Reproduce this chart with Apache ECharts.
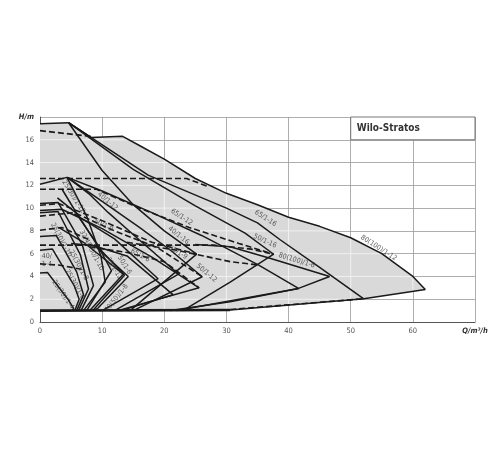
<!DOCTYPE html>
<html><head><meta charset="utf-8">
<script src="https://cdn.jsdelivr.net/npm/echarts@6/dist/echarts.min.js"></script>
<style>html,body{margin:0;padding:0;background:#fff}#c{width:500px;height:450px}</style>
</head><body><div id="c"></div>
<script>
// ---- tick labels ----
const xTickLabels = ['0','10','20','30','40','50','60','Q/m³/h'];
const yTickLabels = ['0','2','4','6','8','10','12','14','16','H/m'];
const title = 'Wilo-Stratos';

// ---- gray operating envelope (Q m3/h, H m) ----
const envelope = [[0,1.0],[0,17.4],[4.6,17.5],[8.2,16.2],[13.3,16.3],[16,15.5],[20,14.3],[25,12.6],[30,11.3],[35,10.3],[40,9.2],[45,8.4],[50,7.4],[55,6.0],[60,4.0],[62,2.86],[52.1,2.04],[30.6,1.05],[20,1.0]];

// ---- solid max curves ----
const top16 = [[0,17.4],[4.6,17.5]];
const c80_12 = [[4.6,17.5],[8.2,16.2],[13.3,16.3],[16,15.5],[20,14.3],[25,12.6],[30,11.3],[35,10.3],[40,9.2],[45,8.4],[50,7.4],[55,6.0],[60,4.0],[62,2.86],[52.1,2.04],[30.6,1.05]];
const c65_16 = [[4.6,17.5],[17.4,12.9],[30,10.0],[35,8.7],[38.7,7.2],[45,4.8],[52.1,2.04]];
const c50_16 = [[4.6,17.5],[15,13.4],[25,10.2],[33,7.8],[37.6,5.95],[30.6,3.5],[23,1.0]];
const c40_16 = [[4.6,17.5],[10,13.3],[15,10.3],[20,8.0],[25.2,5.96],[14.5,1.0]];
const c80_6 = [[25,6.8],[30.6,6.6],[37,5.6],[46.6,4.0],[41.6,2.95],[30.6,1.78],[21,1.0]];
const c65_12 = [[4.4,12.7],[10,11.5],[18,9.6],[26,7.6],[35.2,5.0],[41.6,2.95],[22,1.0]];
const c50_12 = [[4.4,12.7],[10,10.6],[16,8.3],[21,6.3],[26.1,3.97],[15,1.0]];
const c40_12 = [[4.4,12.7],[8,11.2],[11,9.6],[16,7.2],[22.3,4.2],[12,1.0]];
const c65_9 = [[0,9.8],[3.5,9.9],[10,8.2],[18,5.7],[25.6,3.0],[12.5,1.0]];
const c50_9 = [[5.5,9.5],[12,7.3],[19,3.8],[10,1.0]];
const c65_6 = [[8,6.8],[14,5.8],[21.4,2.4],[13,1.0]];
const c50_6 = [[5,6.9],[8.8,6.7],[14.2,4.0],[9.3,1.2],[8.5,1.0]];
const c32_12 = [[3.5,11.7],[6.5,9.0],[10,6.2],[13.6,4.1],[8.5,1.0]];
const c40_8 = [[3,8.3],[7,7.0],[13.4,4.2],[8,1.0]];
const c32_10 = [[2.8,10.9],[6,9.5],[9.5,6.5],[11.5,4.5],[7.5,1.0]];
const c25_12 = [[0,12.1],[4.35,12.7],[7.5,9.3],[9.8,5.8],[10.5,3.5],[7,1.0]];
const c25_10 = [[0,10.4],[2.9,10.5],[6.8,6.8],[8.6,3.2],[6.6,1.0]];
const c25_8 = [[0,9.6],[2.9,9.7],[6.5,5.9],[7.8,2.9],[6.2,1.0]];
const c25_6 = [[0,7.5],[2.6,7.6],[5.9,4.4],[7.0,2.4],[5.9,1.0]];
const c40_4 = [[0,6.3],[2.0,6.4],[5.5,3.2],[6.3,2.0],[5.6,1.0]];
const c25_4 = [[0,4.3],[1.2,4.35],[4.5,2.0],[5.4,1.2],[5.2,1.0]];
const minCurve = [[0,1.0],[30.6,1.05]];

// ---- dashed control curves ----
const d1 = [[0,16.8],[8.2,16.3]];
const d2 = [[0,12.6],[23.6,12.6],[27,11.9]];
const d3 = [[0,11.65],[9.1,11.65],[16,10.0],[24,8.3],[32,6.9],[37.6,5.95]];
const d4 = [[0,10.25],[3,10.4],[10,8.9],[18,7.0],[25.2,5.96]];
const d5 = [[0,9.3],[5.5,9.6],[12,8.0],[19,6.5],[26.1,3.97]];
const d6 = [[0,8.05],[3.5,8.3],[8,7.2]];
const d7 = [[0,6.75],[28,6.75],[34,6.4],[37.6,5.95]];
const d8 = [[0,5.1],[3,5.0],[7,4.6]];
const d9 = [[30.6,1.1],[52.1,2.04]];
const d10 = [[8,6.6],[14,6.1],[20,5.3],[25.6,3.0]];
const d11 = [[14,7.0],[22,6.3],[30.6,5.3],[35.2,5.0]];

// ---- curve labels: text, Q, H, angle ----
const curveLabels = [
 ['80(100)/1-12',54.5,6.5,-33],
 ['65/1-16',36.3,9.1,-33],
 ['50/1-16',36.2,7.1,-25],
 ['80(100)/1-6',41.3,5.4,-17],
 ['65/1-12',22.8,9.2,-33],
 ['40/1-16',22.3,7.6,-38],
 ['65/1-9',22.2,6.1,-30],
 ['50/1-12',26.8,4.3,-40],
 ['40/1-12',10.9,10.6,-40],
 ['50/1-9',10.2,8.5,-28],
 ['65/1-6',16.1,5.85,-28],
 ['50/1-6',13.6,5.0,-58],
 ['32/1-12',11.9,4.7,-58],
 ['32/40 50/1-10',8.3,6.3,-62],
 ['40(50)/1-8',12.3,2.1,52],
 ['25(30)/1-12',5.4,11.0,-58],
 ['25(30)/1-10',3.4,7.2,-62],
 ['25(30)/1-8',6.2,5.0,-62],
 ['25(30)/1-6',5.6,3.3,-60],
 ['25(30)/1-4',3.7,2.4,-55],
 ['40/\n1-4',1.1,5.4,0]
];

const solids = [top16,c80_12,c65_16,c50_16,c40_16,c80_6,c65_12,c50_12,c40_12,c65_9,c50_9,c65_6,c50_6,c32_12,c40_8,c32_10,c25_12,c25_10,c25_8,c25_6,c40_4,c25_4];
const dashes = [d1,d2,d3,d4,d5,d6,d7,d8,d9,d10,d11];

// grid lines seen through the gray area: segments of grid lines inside the envelope
function insideSegments(axis, v) {
  const xs = [];
  for (let i = 0; i < envelope.length; i++) {
    const a = envelope[i], b = envelope[(i+1) % envelope.length];
    const k = axis === 'q' ? 0 : 1, o = 1 - k;
    if ((a[k] - v) * (b[k] - v) < 0 || (a[k] === v && b[k] !== v)) {
      const t = (v - a[k]) / (b[k] - a[k]);
      if (t >= 0 && t < 1) xs.push(a[o] + t * (b[o] - a[o]));
    }
  }
  xs.sort((m, n) => m - n);
  const segs = [];
  for (let i = 0; i + 1 < xs.length; i += 2) {
    segs.push(axis === 'q' ? [[v, xs[i]], [v, xs[i+1]]] : [[xs[i], v], [xs[i+1], v]]);
  }
  return segs;
}

const series = [];
series.push({
  type:'custom', z:1, silent:true, data:[0],
  renderItem:(params, api)=>{
    const children = [{type:'polygon', shape:{points:envelope.map(p=>api.coord(p))}, style:{fill:'#d9d9d9', stroke:'none'}}];
    const segs = [];
    for (let q = 10; q <= 60; q += 10) segs.push(...insideSegments('q', q));
    for (let h = 2; h <= 16; h += 2) segs.push(...insideSegments('h', h));
    segs.forEach(s=>{
      const a = api.coord(s[0]), b = api.coord(s[1]);
      children.push({type:'line', shape:{x1:a[0], y1:a[1], x2:b[0], y2:b[1]}, style:{stroke:'#f3f3f3', lineWidth:0.9}});
    });
    return {type:'group', children};
  }
});
series.push({
  type:'custom', z:1, silent:true, data:[0],
  renderItem:(params, api)=>{
    const a = api.coord([50,18]), b = api.coord([70,16]);
    return {type:'group', children:[
      {type:'rect', shape:{x:a[0], y:a[1], width:b[0]-a[0], height:b[1]-a[1]}, style:{fill:'#fff', stroke:'#666', lineWidth:0.9}},
      {type:'text', style:{x:a[0]+6, y:(a[1]+b[1])/2, text:title, font:'bold 10px "DejaVu Sans Condensed", "DejaVu Sans", sans-serif', fill:'#333', verticalAlign:'middle'}}
    ]};
  }
});
solids.forEach(d=>series.push({type:'line', data:d, showSymbol:false, silent:true, z:4, lineStyle:{color:'#1a1a1a', width:1.5}}));
dashes.forEach(d=>series.push({type:'line', data:d, showSymbol:false, silent:true, z:3, lineStyle:{color:'#1a1a1a', width:1.6, type:[6,3]}}));
series.push({type:'line', data:minCurve, showSymbol:false, silent:true, z:5, lineStyle:{color:'#1a1a1a', width:2.6}});
series.push({
  type:'scatter', symbolSize:0, silent:true, z:6,
  data: curveLabels.map(l=>({value:[l[1],l[2]], label:{rotate:l[3]}, name:l[0]})),
  label:{show:true, position:'inside', formatter:p=>p.name, fontSize:7, color:'#333', fontFamily:'"DejaVu Sans Condensed", "DejaVu Sans", sans-serif', lineHeight:8}
});

const chart = echarts.init(document.getElementById('c'), null, {renderer:'canvas'});
chart.setOption({
  animation:false,
  grid:{left:40, right:25, top:117, bottom:128},
  xAxis:{type:'value', min:0, max:70, interval:10,
    axisLine:{show:true, lineStyle:{color:'#555', width:1}}, axisTick:{show:false},
    splitLine:{show:true, lineStyle:{color:'#999', width:0.8}},
    axisLabel:{fontSize:7.5, color:'#555', margin:5, fontFamily:'"DejaVu Sans Condensed", sans-serif',
      formatter:(v)=>{const s=xTickLabels[Math.round(v/10)]; return v===70?'{b|'+s+'}':s;},
      rich:{b:{fontWeight:'bold', fontStyle:'italic', fontSize:7.5, color:'#333'}}}
  },
  yAxis:{type:'value', min:0, max:18, interval:2,
    axisLine:{show:true, lineStyle:{color:'#555', width:1}}, axisTick:{show:false},
    splitLine:{show:true, lineStyle:{color:'#999', width:0.8}},
    axisLabel:{fontSize:7.5, color:'#555', margin:6, fontFamily:'"DejaVu Sans Condensed", sans-serif',
      formatter:(v)=>{const s=yTickLabels[Math.round(v/2)]; return v===18?'{b|'+s+'}':s;},
      rich:{b:{fontWeight:'bold', fontStyle:'italic', fontSize:7.5, color:'#333'}}}
  },
  series: series
});
</script></body></html>
